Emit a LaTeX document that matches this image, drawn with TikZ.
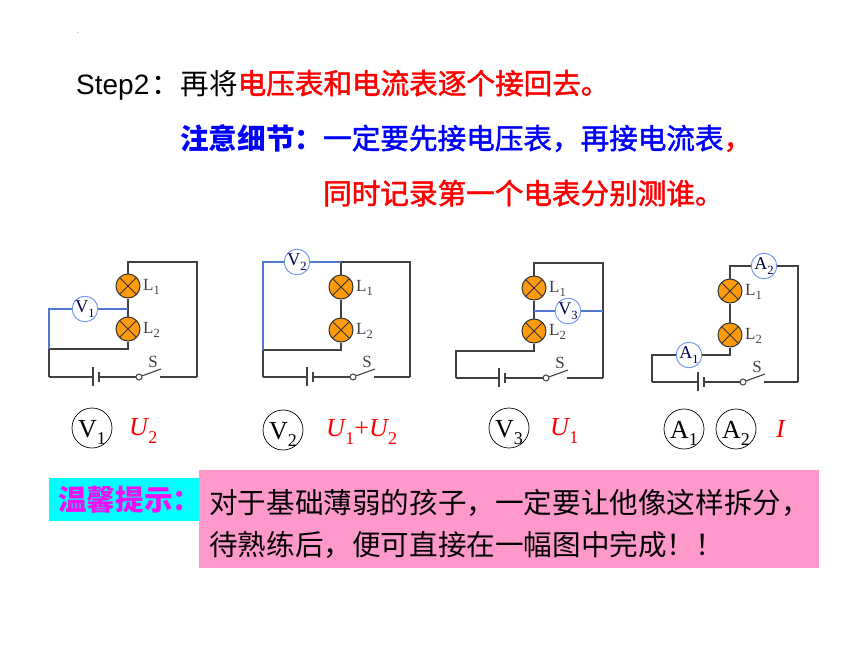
\documentclass[tikz,border=0pt]{standalone}
\usepackage{fontspec}
\setmainfont{Liberation Serif}
\newfontfamily\cjk{Noto Sans CJK SC}
\newfontfamily\cjkm[FakeBold=1.6]{Noto Sans CJK SC}
\newfontfamily\arialf{Liberation Sans}
\definecolor{wirec}{HTML}{404040}
\definecolor{bluewire}{HTML}{5078D0}
\definecolor{meterc}{HTML}{6A90F0}
\definecolor{lampc}{HTML}{FF9A0A}
\definecolor{pinkc}{HTML}{FF99CC}
\definecolor{magc}{HTML}{F010F0}
\definecolor{cyanc}{HTML}{00FFFF}
\newcommand{\lbl}[2]{#1\raisebox{-0.28em}{\fontsize{12.5}{12.5}\selectfont #2}}
\newcommand{\biglbl}[2]{\raisebox{-9pt}[0pt][0pt]{#1\raisebox{-0.28em}{\fontsize{18}{18}\selectfont #2}}}
\newcommand{\usub}[1]{\textit{U}\hspace{-1pt}\raisebox{-0.28em}{\fontsize{18}{18}\selectfont #1}}
\tikzset{
  x=1pt,y=-1pt,
  wire/.style={draw=wirec,line width=1.1pt},
  bluew/.style={draw=bluewire,line width=1.1pt},
  lamp/.style={circle,draw=black!80,line width=1pt,fill=lampc,minimum size=24pt,inner sep=0pt,
    path picture={\draw[black!80,line width=0.9pt] (path picture bounding box.north west)--(path picture bounding box.south east)
      (path picture bounding box.north east)--(path picture bounding box.south west);}},
  meter/.style={circle,draw=meterc,line width=0.9pt,fill=white,minimum size=25pt,inner sep=0pt,
    font=\fontsize{18}{18}\selectfont,text=black!70!blue},
  lamplabel/.style={font=\fontsize{17}{17}\selectfont,text=black!75,inner sep=0pt},
  contact/.style={circle,draw=wirec,line width=1pt,fill=white,minimum size=6pt,inner sep=0pt},
  plate/.style={draw=wirec,line width=1.1pt},
  splate/.style={draw=wirec,line width=2pt},
  ring/.style={circle,draw=black,line width=0.7pt,minimum size=40pt,inner sep=0pt,font=\fontsize{26}{26}\selectfont},
  redlbl/.style={text=red,font=\fontsize{26}{26}\selectfont,inner sep=0pt},
  headline/.style={anchor=base west,inner sep=0pt,font=\cjk\fontsize{28.6}{28.6}\selectfont},
  tipline/.style={anchor=base west,inner sep=0pt,font=\cjk\fontsize{28.6}{28.6}\selectfont,text=black},
}
% #1 prefix, #2 lamp x, #3 L1 y, #4 L2 y, #5 bottom y, #6 left x, #7 right x, #8 battery long x, #9 switch x
\newcommand{\circuit}[9]{
  \node[lamp] (#1L1) at (#2,#3) {};
  \node[lamp] (#1L2) at (#2,#4) {};
  \node[lamplabel,anchor=west] (#1t1) at (#2+15,#3+1) {\lbl{L}{1}};
  \node[lamplabel,anchor=west] (#1t2) at (#2+15,#4+1) {\lbl{L}{2}};
  \coordinate (#1bl) at (#6,#5);
  \coordinate (#1br) at (#7,#5);
  \coordinate (#1pa) at (#8,#5);
  \coordinate (#1pb) at (#8+6,#5);
  \node[contact] (#1sw) at (#9,#5) {};
  \coordinate (#1se) at (#9+22,#5-8);
  \coordinate (#1sr) at (#9+21,#5);
  \draw[plate] (#8,#5-10) -- (#8,#5+9);
  \draw[splate] (#8+6,#5-5) -- (#8+6,#5+5);
  \draw[wire] (#1bl) -- (#1pa);
  \draw[wire] (#1pb) -- (#1sw);
  \draw[wire] (#1sw) -- (#1se);
  \draw[wire] (#1sr) -- (#1br);
  \draw[wire] (#1L1) -- (#1L2);
  \node[inner sep=0pt,lamplabel] (#1S) at (#9+14,#5-15) {S};
}
\begin{document}
\begin{tikzpicture}
\useasboundingbox (0,0) rectangle (860,645);
\fill[white] (0,0) rectangle (860,645);

\node[inner sep=0pt,font=\fontsize{8}{8}\selectfont,text=black!60] (dot) at (78,33) {.};

% headings
\node[headline] (h1) at (76,94) {{\arialf\fontsize{28}{28}\selectfont Step2}\hspace{2.5pt}：再将\textcolor{red}{\cjkm 电压表和电流表逐个接回去。}};
\node[headline,text=blue] (h2) at (180,149) {{\bfseries 注意细节：}{\cjkm 一定要先接电压表，再接电流表\textcolor{red}{，}}};
\node[headline,text=red] (h3) at (323,204) {\cjkm 同时记录第一个电表分别测谁。};

% circuit 1
\circuit{a}{128}{286}{329}{377}{49}{197}{93}{139}
\node[meter] (V1) at (85,309) {\lbl{V}{1}};
\coordinate (aj) at (128,309);
\coordinate (atr) at (197,262);
\coordinate (atl) at (128,262);
\coordinate (alr) at (128,349);
\coordinate (all) at (49,349);
\coordinate (avl) at (49,309);
\draw[wire] (aL1) -- (atl) -- (atr) -- (abr);
\draw[wire] (aL2) -- (alr) -- (all) -- (abl);
\draw[bluew] (aj) -- (V1) -- (avl) -- (all);

% circuit 2
\circuit{b}{341}{287}{330}{377}{263}{410}{307}{353}
\node[meter] (V2) at (297,262) {\lbl{V}{2}};
\coordinate (btr) at (410,262);
\coordinate (btl) at (341,262);
\coordinate (blr) at (341,350);
\coordinate (bll) at (263,350);
\coordinate (bvl) at (263,262);
\draw[wire] (bL1) -- (btl) -- (btr) -- (bbr);
\draw[wire] (bL2) -- (blr) -- (bll) -- (bbl);
\draw[bluew] (btl) -- (V2) -- (bvl) -- (bll);

% circuit 3
\circuit{c}{534}{288}{331}{378}{456}{603}{499}{546}
\node[meter] (V3) at (568,311) {\lbl{V}{3}};
\coordinate (cj) at (534,311);
\coordinate (cjr) at (603,311);
\coordinate (ctr) at (603,263);
\coordinate (ctl) at (534,263);
\coordinate (clr) at (534,351);
\coordinate (cll) at (456,351);
\draw[wire] (cL1) -- (ctl) -- (ctr) -- (cbr);
\draw[wire] (cL2) -- (clr) -- (cll) -- (cbl);
\draw[bluew] (cj) -- (V3) -- (cjr);

% circuit 4
\circuit{d}{730}{291}{335}{382}{652}{798}{698}{743}
\node[meter] (A1) at (689,355) {\lbl{A}{1}};
\node[meter] (A2) at (764,266) {\lbl{A}{2}};
\coordinate (dtr) at (798,266);
\coordinate (dtl) at (730,266);
\coordinate (dlr) at (730,355);
\coordinate (dll) at (652,355);
\draw[wire] (dL1) -- (dtl) -- (A2) -- (dtr) -- (dbr);
\draw[wire] (dL2) -- (dlr) -- (A1) -- (dll) -- (dbl);

% readings
\node[ring] (r1) at (92,428) {\biglbl{V}{1}};
\node[redlbl,anchor=west] (u1) at (129,431) {\usub{2}};
\node[ring] (r2) at (283,430) {\biglbl{V}{2}};
\node[redlbl,anchor=west] (u2) at (326,432) {\usub{1}+\usub{2}};
\node[ring] (r3) at (509,428) {\biglbl{V}{3}};
\node[redlbl,anchor=west] (u3) at (550,431) {\usub{1}};
\node[ring] (r4) at (684,429) {\biglbl{A}{1}};
\node[ring] (r5) at (736,429) {\biglbl{A}{2}};
\node[redlbl] (u4) at (781,429) {\textit{I}};

% tips
\fill[cyanc] (49,478) rectangle (199,521);
\fill[pinkc] (199,470) rectangle (819,568);
\node[headline,text=magc] (w) at (58,510) {\bfseries 温馨提示：};
\node[tipline] (t1) at (209,513) {对于基础薄弱的孩子，一定要让他像这样拆分，};
\node[tipline] (t2) at (209,555) {待熟练后，便可直接在一幅图中完成！！};
\end{tikzpicture}
\end{document}
